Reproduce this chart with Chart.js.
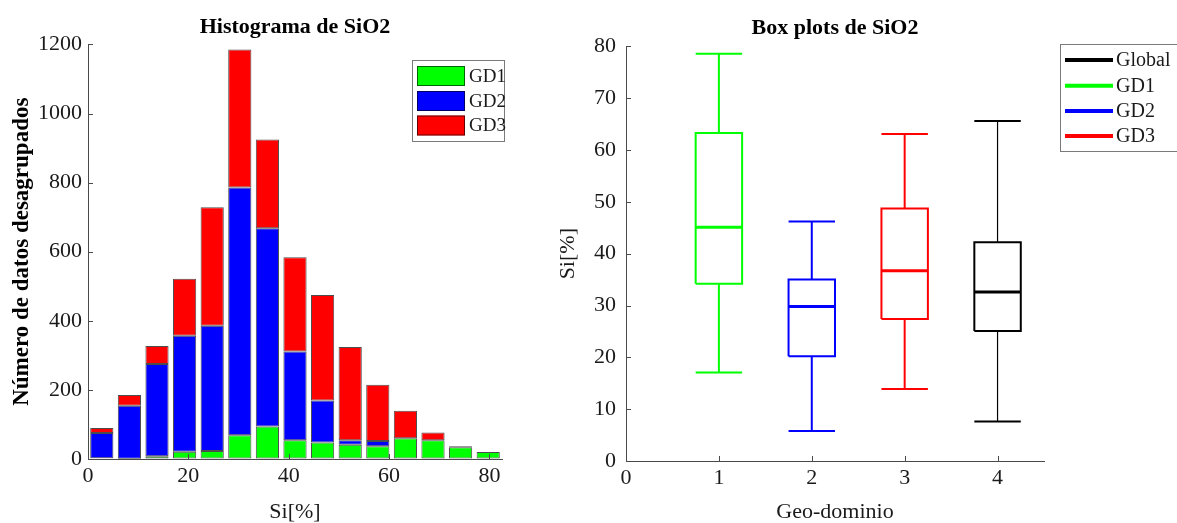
<!DOCTYPE html>
<html>
<head>
<meta charset="utf-8">
<script src="https://cdn.jsdelivr.net/npm/chart.js@4.4.1/dist/chart.umd.min.js"></script>
<style>
  html, body { margin: 0; padding: 0; background: #fff; }
  #wrap { position: relative; width: 1177px; height: 523px; overflow: hidden; }
  #c1 { position: absolute; left: 0; top: 0; }
  #c2 { position: absolute; left: 540px; top: 0; }
</style>
</head>
<body>
<div id="wrap">
  <canvas id="c1" width="540" height="523"></canvas>
  <canvas id="c2" width="637" height="523"></canvas>
</div>
<script>
// ---- Histogram of SiO2: bin centres (Si %) and counts per geo-domain ----
const binCenters = [2.75, 8.25, 13.75, 19.25, 24.75, 30.25, 35.75, 41.25, 46.75, 52.25, 57.75, 63.25, 68.75, 74.25, 79.75];
const countsGD1 = [2, 1, 8, 21, 23, 69, 94, 54, 48, 41, 37, 60, 54, 34, 20];
const countsGD2 = [73, 153, 267, 336, 363, 717, 574, 257, 121, 13, 15, 0, 0, 0, 0];
const countsGD3 = [15, 31, 52, 165, 343, 399, 257, 273, 306, 270, 163, 80, 23, 3, 0];
const histSeries = ['GD1', 'GD2', 'GD3'];
const histYTicks = [0, 200, 400, 600, 800, 1000, 1200];
const histXTicks = [0, 20, 40, 60, 80];

// ---- Box plots of SiO2 per geo-domain ----
const boxNames = ['GD1', 'GD2', 'GD3', 'Global'];
const boxPositions = [1, 2, 3, 4];
const boxLow = [17.1, 5.8, 13.9, 7.6];
const boxQ1 = [34.2, 20.2, 27.4, 25.1];
const boxMedian = [45.1, 29.8, 36.7, 32.6];
const boxQ3 = [63.3, 35.0, 48.7, 42.2];
const boxHigh = [78.6, 46.2, 63.1, 65.6];
const boxLegendOrder = ['Global', 'GD1', 'GD2', 'GD3'];

const FONT = "'Liberation Serif', 'Times New Roman', serif";
const AXIS = '#4a4a4a';
const TEXT = '#1a1a1a';
const COLORS = { GD1: '#00ff00', GD2: '#0000ff', GD3: '#ff0000', Global: '#000000' };

// Inward tick marks on the axes (drawn over the data)
const innerTicks = {
  id: 'innerTicks',
  afterDatasetsDraw(chart, args, opts) {
    const ctx = chart.ctx, a = chart.chartArea;
    ctx.save();
    ctx.strokeStyle = AXIS;
    ctx.lineWidth = 1;
    const len = opts.length || 5;
    chart.scales.x.ticks.forEach(t => {
      const px = Math.round(chart.scales.x.getPixelForValue(t.value)) + 0.5;
      ctx.beginPath(); ctx.moveTo(px, a.bottom); ctx.lineTo(px, a.bottom - len); ctx.stroke();
    });
    chart.scales.y.ticks.forEach(t => {
      const py = Math.round(chart.scales.y.getPixelForValue(t.value)) + 0.5;
      ctx.beginPath(); ctx.moveTo(a.left, py); ctx.lineTo(a.left + len, py); ctx.stroke();
    });
    ctx.restore();
  }
};

// Framed legend with swatches or line keys
const framedLegend = {
  id: 'framedLegend',
  afterDraw(chart, args, o) {
    if (!o || !o.items) return;
    const ctx = chart.ctx;
    ctx.save();
    ctx.fillStyle = '#fff';
    ctx.fillRect(o.x, o.y, o.w, o.h);
    ctx.strokeStyle = '#7a7a7a';
    ctx.lineWidth = 1;
    ctx.strokeRect(o.x + 0.5, o.y + 0.5, o.w, o.h);
    ctx.font = o.fontSize + 'px ' + FONT;
    ctx.textBaseline = 'middle';
    ctx.textAlign = 'left';
    o.items.forEach((it, i) => {
      const cy = o.rowY[i];
      if (o.kind === 'swatch') {
        ctx.fillStyle = it.color;
        ctx.fillRect(o.keyX, cy - o.keyH / 2, o.keyW, o.keyH);
        ctx.strokeStyle = 'rgba(0,0,0,0.6)';
        ctx.lineWidth = 1;
        ctx.strokeRect(o.keyX + 0.5, cy - o.keyH / 2 + 0.5, o.keyW - 1, o.keyH - 1);
      } else {
        ctx.strokeStyle = it.color;
        ctx.lineWidth = o.keyH;
        ctx.beginPath(); ctx.moveTo(o.keyX, cy); ctx.lineTo(o.keyX + o.keyW, cy); ctx.stroke();
      }
      ctx.fillStyle = TEXT;
      ctx.fillText(it.text, o.textX, cy + 1);
    });
    ctx.restore();
  }
};

function fixSize(w, h) {
  return function (s) { if (w != null) s.width = w; if (h != null) s.height = h; };
}
const plainNumber = v => String(v);

// ---------------- Histogram ----------------
const histCounts = { GD1: countsGD1, GD2: countsGD2, GD3: countsGD3 };
new Chart(document.getElementById('c1'), {
  type: 'bar',
  data: {
    datasets: histSeries.map(name => ({
      label: name,
      data: binCenters.map((c, i) => ({ x: c, y: histCounts[name][i] })),
      backgroundColor: COLORS[name],
      borderColor: 'rgba(0,0,0,0.7)',
      borderWidth: 1,
      borderSkipped: false,
      barPercentage: 0.84,
      categoryPercentage: 1
    }))
  },
  options: {
    responsive: false,
    animation: false,
    devicePixelRatio: 1,
    layout: { padding: { left: 0, right: 38, top: 0, bottom: 0 } },
    plugins: {
      legend: { display: false },
      tooltip: { enabled: false },
      title: {
        display: true, fullSize: false,
        text: 'Histograma de SiO2',
        color: '#000',
        font: { family: FONT, size: 22, weight: 'bold' },
        padding: { top: 14, bottom: 4 }
      },
      framedLegend: {
        kind: 'swatch',
        x: 412, y: 60, w: 92, h: 81,
        keyX: 417, keyW: 48, keyH: 20,
        textX: 469, fontSize: 19,
        rowY: [76, 101, 125.5],
        items: histSeries.map(n => ({ text: n, color: COLORS[n] }))
      },
      innerTicks: { length: 5 }
    },
    scales: {
      x: {
        type: 'linear', stacked: true, offset: false,
        min: 0, max: 82.5,
        afterFit: fixSize(null, 64),
        afterBuildTicks(s) { s.ticks = histXTicks.map(v => ({ value: v })); },
        grid: { display: true, drawOnChartArea: false, drawTicks: false, offset: false },
        border: { display: true, color: AXIS, width: 1 },
        ticks: { color: TEXT, padding: 4, font: { family: FONT, size: 22 }, maxRotation: 0, autoSkip: false, callback: plainNumber },
        title: { display: true, text: 'Si[%]', color: TEXT, font: { family: FONT, size: 22 }, padding: { top: 0, bottom: -2 } }
      },
      y: {
        stacked: true,
        min: 0, max: 1200,
        afterFit: fixSize(88, null),
        afterBuildTicks(s) { s.ticks = histYTicks.map(v => ({ value: v })); },
        grid: { display: true, drawOnChartArea: false, drawTicks: false },
        border: { display: true, color: AXIS, width: 1 },
        ticks: { color: TEXT, padding: 6, font: { family: FONT, size: 22 }, callback: plainNumber },
        title: { display: true, text: 'Número de datos desagrupados', color: '#000', font: { family: FONT, size: 23, weight: 'bold' }, padding: { top: 8, bottom: 0 } }
      }
    }
  },
  plugins: [innerTicks, framedLegend]
});

// ---------------- Box plots ----------------
const halfW = 0.25;
const boxSets = [];
boxNames.forEach((name, i) => {
  const p = boxPositions[i], c = COLORS[name];
  const stem = name === 'Global' ? 1.2 : 2;
  const line = (data, width) => ({
    label: name, data, borderColor: c, backgroundColor: c, borderWidth: width,
    pointRadius: 0, tension: 0, fill: false, spanGaps: false,
    borderJoinStyle: 'miter', borderCapStyle: 'butt'
  });
  // whisker stems
  boxSets.push(line([
    { x: p, y: boxQ3[i] }, { x: p, y: boxHigh[i] }, { x: p, y: null },
    { x: p, y: boxQ1[i] }, { x: p, y: boxLow[i] }
  ], stem));
  // whisker caps
  boxSets.push(line([
    { x: p - halfW, y: boxHigh[i] }, { x: p + halfW, y: boxHigh[i] }, { x: p, y: null },
    { x: p - halfW, y: boxLow[i] }, { x: p + halfW, y: boxLow[i] }
  ], 2));
  // box from Q1 to Q3
  boxSets.push(line([
    { x: p - halfW, y: boxQ1[i] }, { x: p + halfW, y: boxQ1[i] },
    { x: p + halfW, y: boxQ3[i] }, { x: p - halfW, y: boxQ3[i] },
    { x: p - halfW, y: boxQ1[i] }
  ], 2));
  // median
  boxSets.push(line([
    { x: p - halfW, y: boxMedian[i] }, { x: p + halfW, y: boxMedian[i] }
  ], 3));
});

new Chart(document.getElementById('c2'), {
  type: 'line',
  data: { datasets: boxSets },
  options: {
    responsive: false,
    animation: false,
    devicePixelRatio: 1,
    layout: { padding: { left: 0, right: 133, top: 0, bottom: 0 } },
    plugins: {
      legend: { display: false },
      tooltip: { enabled: false },
      title: {
        display: true, fullSize: false,
        text: 'Box plots de SiO2',
        color: '#000',
        font: { family: FONT, size: 22, weight: 'bold' },
        padding: { top: 15, bottom: 5 }
      },
      framedLegend: {
        kind: 'line',
        x: 520, y: 44, w: 140, h: 107,
        keyX: 525, keyW: 48, keyH: 4,
        textX: 576, fontSize: 20,
        rowY: [60, 85.7, 111, 136],
        items: boxLegendOrder.map(n => ({ text: n, color: COLORS[n] }))
      },
      innerTicks: { length: 5 }
    },
    scales: {
      x: {
        type: 'linear', min: 0, max: 4.5,
        afterFit: fixSize(null, 62),
        afterBuildTicks(s) { s.ticks = [0].concat(boxPositions).map(v => ({ value: v })); },
        grid: { display: true, drawOnChartArea: false, drawTicks: false },
        border: { display: true, color: AXIS, width: 1 },
        ticks: { color: TEXT, padding: 4, font: { family: FONT, size: 22 }, maxRotation: 0, autoSkip: false, callback: plainNumber },
        title: { display: true, text: 'Geo-dominio', color: TEXT, font: { family: FONT, size: 22 }, padding: { top: 0, bottom: -2 } }
      },
      y: {
        type: 'linear', min: 0, max: 80,
        afterFit: fixSize(86, null),
        ticks: { stepSize: 10, color: TEXT, padding: 10, font: { family: FONT, size: 22 }, callback: plainNumber },
        grid: { display: true, drawOnChartArea: false, drawTicks: false },
        border: { display: true, color: AXIS, width: 1 },
        title: { display: true, text: 'Si[%]', color: TEXT, font: { family: FONT, size: 22 }, padding: { top: 15, bottom: 0 } }
      }
    }
  },
  plugins: [innerTicks, framedLegend]
});
</script>
</body>
</html>
